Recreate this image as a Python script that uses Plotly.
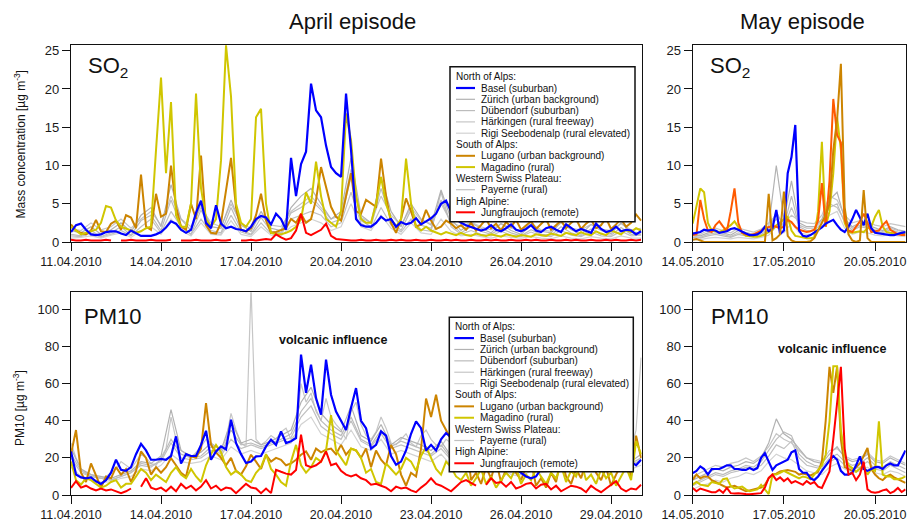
import pandas as pd
import plotly.graph_objects as go

W, H = 907, 521

APR_START = "2010-04-11"
MAY_START = "2010-05-14"

BLUE = "#0000ff"
GOLD = "#cc8400"
YELLOW = "#d0c600"
RED = "#ff0000"
ORANGE_RED = "#ff5a00"
GREY_ZUR = "#b2b2b2"
GREY_DUB = "#bcbcbc"
GREY_HAR = "#c6c6c6"
GREY_RIGI = "#d2d2d2"
GREY_PAY = "#c0c0c0"

# ---------------- April, SO2 (4-hourly colour stations, 8-hourly grey stations)
basel_so2_apr = [1.3, 2.2, 2.4, 1.6, 1.0, 0.9, 1.0, 1.3, 1.4, 1.4, 1.1, 0.9,
                 1.5, 1.1, 0.8, 0.8, 0.8, 1.0, 1.3, 1.9, 2.7, 2.4, 1.6, 1.2,
                 1.6, 3.8, 5.4, 2.5, 1.8, 4.8, 2.4, 1.8, 2.0, 1.7, 1.6, 1.4,
                 2.0, 3.0, 3.4, 3.2, 2.3, 3.7, 3.0, 1.6, 11.0, 6.0, 10.2, 11.8,
                 20.7, 17.2, 16.3, 12.6, 9.8, 9.0, 8.5, 19.4, 12.0, 3.0, 2.2, 2.0,
                 2.0, 2.5, 3.3, 2.8, 3.0, 2.0, 2.6, 2.3, 2.5, 3.1, 2.3, 2.7,
                 3.1, 3.7, 5.0, 5.4, 4.0, 3.0, 2.5, 2.2, 2.0, 1.8, 1.5, 1.7,
                 2.2, 1.6, 1.4, 1.8, 2.3, 1.6, 1.4, 1.7, 2.2, 1.5, 1.3, 1.8,
                 2.0, 1.6, 1.3, 2.3, 1.8, 1.4, 1.7, 1.5, 1.2, 2.4, 1.7, 1.3,
                 1.5, 2.0, 1.4, 1.6, 1.5, 1.0, 1.4]
lugano_so2_apr = [2.3, 1.5, 1.2, 1.0, 1.5, 2.9, 1.4, 1.3, 2.4, 2.8, 1.6, 3.5,
                  3.2, 1.8, 8.8, 2.0, 1.6, 6.3, 3.3, 3.7, 10.0, 4.6, 2.0, 1.6,
                  5.0, 3.0, 11.3, 2.2, 1.2, 1.1, 2.5, 7.0, 11.0, 4.5, 1.6, 1.4,
                  1.8, 3.5, 6.3, 2.8, 1.2, 1.3, 1.5, 1.8, 3.0, 2.5, 3.7, 2.5,
                  3.0, 5.5, 9.8, 7.0, 4.6, 3.3, 2.8, 6.0, 9.0, 4.0, 3.7, 5.5,
                  5.0, 4.6, 10.9, 6.0, 2.5, 1.2, 3.0, 5.7, 4.0, 2.0, 2.3, 4.2,
                  2.8, 1.7, 2.0, 2.8, 2.4, 1.8, 2.2, 1.6, 2.5, 1.5, 2.2, 3.0,
                  1.8, 2.4, 1.5, 2.6, 2.0, 2.9, 1.6, 2.2, 2.7, 1.7, 2.4, 3.0,
                  1.6, 2.2, 2.8, 1.8, 2.5, 3.0, 1.7, 2.4, 2.9, 1.8, 2.2, 3.1,
                  1.7, 2.3, 3.0, 2.0, 2.5, 3.6, 2.8]
magadino_so2_apr = [2.0, 1.5, 1.0, 1.2, 1.4, 1.6, 2.5, 4.7, 4.5, 2.8, 2.0, 1.8,
                    1.5, 1.2, 1.4, 1.8, 2.0, 12.0, 21.5, 9.0, 18.3, 3.5, 2.0, 2.0,
                    5.0, 19.4, 7.0, 3.0, 2.0, 3.0, 10.7, 25.7, 19.0, 5.0, 2.5, 2.0,
                    3.0, 16.3, 17.4, 5.0, 1.2, 1.0, 1.0, 1.2, 1.5, 2.0, 3.0, 6.5,
                    5.0, 10.5, 6.0, 3.0, 2.5, 2.0, 4.0, 16.8, 13.3, 6.0, 3.0, 2.5,
                    2.5, 5.0, 8.5, 5.0, 3.0, 2.0, 3.0, 10.9, 5.0, 2.0, 1.5, 2.0,
                    1.5, 1.2, 1.0, 1.3, 1.1, 0.9, 1.2, 0.9, 0.8, 1.1, 0.9, 0.8,
                    1.0, 0.8, 0.7, 1.0, 0.8, 0.7, 0.9, 0.8, 0.7, 1.0, 0.9, 0.8,
                    1.1, 0.9, 0.8, 1.2, 1.0, 0.9, 1.3, 1.0, 0.9, 1.4, 1.1, 0.9,
                    1.5, 1.2, 1.0, 1.6, 1.3, 1.8, 1.5]
jfj_so2_apr = [0.3, 0.2, 0.2, 0.3, 0.2, 0.2, 0.2, 0.3, 0.2, None, 0.2, 0.2,
               0.3, 0.2, 0.2, 0.2, 0.3, 0.2, 0.2, 0.2, 0.3, None, 0.2, 0.2,
               0.2, 0.3, 0.2, 0.2, 0.2, 0.3, 0.2, 0.2, 0.3, None, 0.2, 0.2,
               0.3, 0.2, 0.3, 0.4, 0.3, 1.0, 0.6, 0.3, 0.5, 1.5, 3.7, 1.2,
               0.9, 1.3, 1.6, 2.4, 0.8, 0.4, 0.3, 0.3, 0.2, 0.2, 0.3, 0.2,
               0.2, 0.3, 0.2, 0.2, 0.3, 0.2, 0.3, 0.2, 0.2, 0.3, 0.2, 0.2,
               0.3, 0.2, 0.2, 0.3, 0.2, 0.3, 0.2, 0.2, 0.3, 0.2, 0.2, 0.3,
               0.2, 0.3, 0.2, 0.2, 0.3, 0.2, 0.2, 0.3, 0.2, 0.3, 0.2, 0.2,
               0.3, 0.2, 0.2, 0.3, 0.2, 0.3, 0.2, 0.2, 0.3, 0.2, 0.2, 0.3,
               0.2, 0.3, 0.2, 0.2, 0.3, 0.2, 0.3]
zur_so2_apr = [1.5, 1.2, 2.0, 1.0, 1.6, 2.5, 1.3, 3.5, 4.5, 2.0, 7.5, 3.0,
               1.5, 5.0, 2.0, 1.8, 5.5, 2.2, 1.4, 4.0, 1.8, 1.5, 4.5, 6.0,
               7.0, 5.0, 3.0, 4.0, 11.0, 3.5, 2.5, 8.5, 4.0, 2.0, 5.0, 3.0,
               2.2, 6.8, 3.0, 1.5, 2.5, 1.8, 1.2, 2.4, 1.5, 1.0, 2.2, 1.4,
               1.2, 2.6, 1.6, 1.0, 2.3, 1.5, 1.1, 2.5, 1.3, 1.2]
dub_so2_apr = [1.0, 0.8, 1.5, 0.7, 1.2, 2.0, 0.9, 2.8, 3.5, 1.5, 5.5, 2.2,
               1.0, 4.2, 1.5, 1.2, 4.5, 1.6, 1.0, 3.2, 1.4, 1.2, 3.8, 4.5,
               5.5, 4.2, 2.5, 3.0, 8.5, 2.8, 2.0, 7.0, 3.0, 1.5, 4.2, 2.2,
               1.8, 5.5, 2.4, 1.2, 2.0, 1.4, 1.0, 1.8, 1.2, 0.8, 1.6, 1.0,
               0.9, 2.0, 1.2, 0.8, 1.7, 1.0, 0.9, 1.9, 1.0, 1.0]
har_so2_apr = [1.8, 1.5, 2.5, 1.6, 2.0, 3.0, 1.8, 3.0, 4.0, 2.2, 6.0, 3.0,
               2.0, 4.5, 2.5, 2.0, 5.0, 2.4, 1.8, 3.5, 2.2, 2.0, 4.0, 5.0,
               6.0, 4.5, 3.0, 3.5, 9.5, 3.2, 2.5, 6.0, 3.5, 2.2, 4.5, 2.8,
               2.4, 5.0, 2.6, 2.0, 2.6, 2.0, 1.6, 2.4, 1.8, 1.5, 2.4, 1.6,
               1.4, 2.5, 1.8, 1.6, 2.3, 1.7, 1.5, 2.4, 1.6, 1.8]
rigi_so2_apr = [0.5, 0.6, 0.8, 0.5, 0.9, 1.2, 0.6, 1.5, 2.0, 1.0, 3.0, 1.5,
                0.8, 2.5, 1.0, 0.9, 2.8, 1.0, 0.7, 2.0, 0.9, 0.8, 2.0, 2.5,
                3.0, 2.5, 1.5, 2.0, 5.0, 2.0, 1.5, 3.5, 1.8, 1.0, 2.5, 1.2,
                1.0, 3.0, 1.4, 0.8, 1.0, 0.7, 0.5, 0.8, 0.6, 0.5, 0.7, 0.5,
                0.4, 0.8, 0.5, 0.4, 0.7, 0.5, 0.4, 0.8, 0.5, 0.5]
pay_so2_apr = [0.8, 0.7, 1.2, 0.6, 1.0, 1.5, 0.8, 2.0, 3.0, 1.2, 4.0, 2.0,
               1.0, 3.0, 1.2, 1.0, 3.5, 1.3, 0.9, 2.5, 1.1, 1.0, 3.0, 3.5,
               4.0, 3.5, 2.0, 2.5, 6.5, 2.4, 1.8, 4.5, 2.2, 1.3, 3.0, 1.6,
               1.4, 6.5, 2.0, 1.0, 1.5, 1.0, 0.8, 1.4, 0.9, 0.7, 1.3, 0.8,
               0.7, 1.5, 0.9, 0.7, 1.3, 0.8, 0.7, 1.4, 0.8, 0.9]

# ---------------- April, PM10
basel_pm_apr = [23.5, 11, 9.5, 9, 9.5, 7.4, 6, 8, 12, 19, 13.6, 13,
                15, 22, 27.5, 24, 19, 19, 19.5, 19, 21, 31.6, 17, 22,
                21, 21, 27, 34.6, 19, 23.5, 26.2, 24.5, 40.6, 28, 22, 17.2,
                18, 20.8, 21, 26.2, 29.8, 27, 34.3, 28, 29, 30.7, 75.6, 55,
                70.2, 52.2, 43.3, 72.9, 54, 45, 40, 35, 47, 57.6, 40, 36,
                25, 27, 34.3, 32, 21, 16.3, 18, 24, 33, 39.7, 36, 24,
                27, 24, 30, 33.4, 31, 28, 26, 24.4, 27, 28, 30, 28,
                25, 22, 20, 18, 16, 14, 12, 10, 9, 10, 14, 18,
                20, 18, 20, 22, 19, 21, 24, 20, 22, 25, 22, 20,
                24, 21, 19, 22, 18, 16, 19]
lugano_pm_apr = [22, 35, 12, 7, 17, 10, 4, 10, 9, 15, 11, 14,
                 7, 13, 23.5, 20, 11, 15, 12, 15, 19.9, 16, 12, 10,
                 21, 20, 25, 49.5, 27, 23, 20, 16, 20, 13, 11, 15.5,
                 21.7, 18, 14, 21.7, 18, 20, 19, 16, 17, 19, 21.7, 23.5,
                 19, 25, 23, 24.4, 25, 22, 27, 21.7, 25, 24, 20, 25,
                 15, 24, 19, 16, 27, 22, 11, 5, 12, 10, 25, 52,
                 42, 54, 40, 35, 30, 50, 38, 30, 8, 12, 6, 15,
                 9, 18, 7, 14, 20, 12, 8, 15, 18, 5, 9, 4,
                 12, 7, 20, 10, 6, 14, 9, 18, 22, 12, 8, 15,
                 5, 11, 16, 20, 10, 32, 20]
magadino_pm_apr = [18, 8, 5.6, 9, 8, 6, 4, 5, 7, 8, 4, 6,
                   6, 10, 14, 12, 8, 11, 9, 7, 12, 15, 11, 9,
                   14, 10, 7, 16, 22, 27, 23, 15, 11, 13, 11, 8,
                   7, 12, 15, 22, 14, 11, 7, 5, 18, 27, 16, 12,
                   15, 20, 18, 24, 43, 24, 20, 16, 25, 24, 20, 12,
                   14, 7, 6, 17, 14, 11, 14, 20, 18, 13, 21, 26,
                   20, 14, 11, 18, 15, 10, 8, 12, 5, 9, 14, 6,
                   10, 4, 8, 12, 9, 15, 6, 11, 8, 14, 10, 6,
                   12, 9, 16, 7, 13, 10, 18, 8, 11, 6, 14, 9,
                   12, 5, 10, 15, 8, 29, 22]
jfj_pm_apr = [3.8, 7.4, 4, 5, 3.5, 2.5, 3.5, 2.5, 3, 2, 1, 2,
              3.5, None, 4.5, 9, 4, 3, 4, 2, 4.5, 2, 6, 3.5,
              5, 2.5, 4.5, 8, 3.5, 5, 2.5, 4, 3.5, 1, 3.5, 6,
              4, 3.5, 1, 3.5, 1, 13.6, 12.5, 11.5, 11, 13.5, 32.5, 16,
              15, 16, 18, 23.5, 16, 17, 13, 11, 10, 11, 9, 8,
              5.5, 6, 5, 4, 2, 4.5, 3.5, 4, 2.5, 1.5, 4, 6,
              9, 6, 5, 3.5, 2, 4.5, 7, 8, 6.5, 5, None, 5.5,
              9, 6.5, 7, 4.5, 7, 3.5, 4.5, 6, 6.5, 3.5, 5.5, 6,
              3, 5, 2, 3.5, 5, 4.5, 3.5, 1.5, 5, 3, 1.5, 3.5,
              5.5, 7.5, 3.5, 2, 3.5, 3, 5.5]
# Haerkingen PM10 is kept 4-hourly (it holds the short 17 April spike)
har_pm_apr = [28, 20, 14, 12, 11, 10, 9, 10, 12, 14, 18, 16,
              14, 18, 22, 20, 17, 16, 20, 25, 42, 30, 24, 22,
              20, 23, 26, 30, 28, 24, 25, 30, 44, 35, 28, 26,
              112, 30, 27, 29, 32, 30, 34, 36, 30, 33, 60, 50,
              55, 45, 40, 52, 42, 38, 35, 30, 45, 50, 38, 32,
              30, 34, 42, 36, 28, 27, 30, 33, 28, 26, 32, 35,
              30, 27, 26, 30, 28, 24, 22, 25, 20, 18, 22, 19,
              17, 20, 16, 18, 21, 17, 15, 18, 14, 16, 19, 15,
              17, 20, 18, 21, 19, 17, 19, 22, 20, 23, 21, 18,
              20, 22, 19, 21, 24, 35, 74]
zur_pm_apr = [25, 14, 11, 10, 9, 11, 13, 18, 17, 21, 46, 24,
              21, 23, 28, 24, 40, 28, 30, 27, 29, 32, 35, 50,
              58, 44, 38, 34, 48, 32, 29, 38, 27, 31, 29, 27,
              24, 29, 21, 19, 24, 17, 15, 19, 14, 13, 17, 15,
              16, 19, 17, 18, 21, 19, 17, 19, 18, 22]
dub_pm_apr = [22, 13, 10, 9, 8, 10, 12, 16, 15, 19, 30, 22,
              20, 21, 26, 22, 35, 27, 28, 26, 28, 30, 33, 45,
              52, 40, 35, 32, 42, 30, 27, 35, 26, 29, 27, 25,
              22, 27, 20, 18, 22, 16, 14, 18, 13, 12, 16, 14,
              15, 18, 16, 17, 20, 18, 16, 18, 17, 20]
rigi_pm_apr = [15, 10, 8, 7, 7, 9, 10, 14, 13, 16, 22, 18,
               17, 18, 21, 19, 26, 22, 24, 22, 24, 26, 28, 38,
               42, 33, 30, 27, 35, 26, 24, 30, 22, 24, 22, 20,
               18, 22, 16, 15, 18, 13, 12, 15, 11, 10, 13, 12,
               13, 15, 13, 14, 17, 15, 13, 15, 14, 16]
pay_pm_apr = [20, 12, 10, 9, 8, 10, 12, 17, 16, 18, 28, 20,
              19, 20, 24, 21, 30, 25, 27, 25, 27, 29, 31, 42,
              48, 37, 33, 30, 40, 29, 26, 33, 25, 27, 25, 23,
              21, 25, 19, 17, 21, 15, 13, 17, 12, 11, 15, 13,
              14, 17, 15, 16, 19, 17, 15, 17, 16, 19]

# ---------------- May, SO2 (3-hourly colour stations, 6-hourly grey stations)
basel_so2_may = [1.1, 1.2, 1.3, 1.6, 1.5, 1.6, 1.5, 1.2, 1.3, 1.4, 1.7, 1.8,
                 1.6, 1.3, 1.1, 0.9, 0.9, 1.0, 1.3, 2.0, 1.4, 1.8, 4.2, 1.0,
                 1.5, 9.0, 11.1, 15.3, 1.5, 0.8, 0.7, 0.9, 1.2, 1.5, 1.9, 2.4,
                 2.7, 2.9, 2.2, 1.6, 1.3, 2.0, 3.0, 4.2, 3.2, 2.2, 3.7, 1.8,
                 1.2, 1.1, 1.1, 1.0, 0.9, 0.9, 1.1, 1.2, 1.3]
lugano_so2_may = [0.9, 1.0, 5.5, 3.0, 1.5, 1.3, 2.2, 2.7, 2.0, 1.4, 4.0, 7.0,
                  2.5, 1.2, 1.0, 0.9, 1.0, 1.2, 1.5, 1.8, 2.0, 2.1, 2.0, 1.8,
                  2.0, 2.9, 2.6, 2.0, 1.6, 1.4, 1.3, 1.4, 1.6, 2.8, 7.7, 2.0,
                  8.0, 18.7, 14.0, 13.0, 3.0, 1.5, 1.3, 2.0, 2.7, 3.7, 2.5, 1.3,
                  1.4, 1.5, 2.2, 2.7, 1.6, 1.3, 1.0, 0.9, 0.9]
magadino_so2_may = [2.4, 4.6, 7.0, 6.5, 2.5, 1.5, 1.4, 1.3, 1.5, 1.8, 2.2, 2.7,
                    2.0, 1.2, 0.8, 0.7, 0.7, 0.7, 0.8, 1.0, 1.3, 1.6, 2.2, 2.5,
                    3.0, 3.3, 1.5, 0.8, 0.7, 0.6, 0.5, 0.5, 0.6, 4.0, 13.1, 2.0,
                    4.0, 9.0, 16.3, 12.0, 2.5, 1.3, 1.2, 1.3, 1.4, 1.3, 1.8, 2.0,
                    3.3, 4.2, 2.0, 1.3, 1.2, 1.1, 1.0, 1.1, 1.2]
jfj_so2_may = [0.3, 0.4, 0.2, 0.0, 0.0, 0.0, 0.0, 0.0, 0.0, 0.0, 0.0, 0.0,
               0.0, 0.0, 0.0, 0.0, 0.0, 0.0, 0.0, 0.0, 6.3, 0.2, 0.5, 1.0,
               6.6, 0.8, 0.2, 0.0, 0.0, 0.0, 0.0, 0.1, 0.5, 1.5, 2.5, 3.5,
               5.0, 12.0, 16.0, 23.3, 4.5, 1.0, 0.2, 0.0, 0.2, 6.8, 0.5, 0.0,
               0.0, 0.0, 0.0, 0.0, 0.0, 0.0, 0.0, 0.0, 0.0]
zur_so2_may = [1.0, 0.8, 1.2, 1.5, 1.2, 0.9, 1.5, 1.2, 1.0, 1.4, 2.0, 10.0,
               3.0, 8.0, 2.5, 2.0, 2.0, 3.0, 5.5, 6.5, 3.0, 2.0, 2.5, 2.2,
               1.8, 1.5, 2.0, 1.6, 1.4]
dub_so2_may = [0.6, 0.5, 0.8, 1.0, 0.8, 0.6, 1.0, 0.8, 0.7, 1.0, 1.5, 4.0,
               2.0, 6.0, 2.0, 1.5, 1.5, 2.5, 4.5, 5.0, 2.5, 1.5, 2.0, 1.8,
               1.4, 1.2, 1.6, 1.3, 1.2]
har_so2_may = [1.2, 1.0, 1.5, 1.8, 1.5, 1.2, 1.8, 1.5, 1.3, 1.7, 2.5, 3.5,
               2.5, 3.5, 2.8, 2.5, 2.4, 3.5, 6.0, 5.5, 3.5, 2.5, 2.8, 2.6,
               2.2, 2.0, 2.4, 2.2, 2.0]
rigi_so2_may = [0.3, 0.3, 0.5, 0.6, 0.5, 0.4, 0.6, 0.5, 0.4, 0.6, 0.9, 2.0,
                1.2, 2.5, 1.2, 1.0, 1.0, 2.0, 3.5, 4.0, 1.8, 1.0, 1.3, 1.2,
                0.9, 0.8, 1.0, 0.8, 0.7]
pay_so2_may = [0.8, 0.6, 1.0, 1.2, 1.0, 0.7, 1.2, 1.0, 0.8, 1.2, 1.7, 3.0,
               2.0, 4.5, 2.2, 1.8, 1.8, 2.8, 5.0, 4.5, 2.8, 1.8, 2.2, 2.0,
               1.6, 1.4, 1.8, 1.5, 1.3]

# ---------------- May, PM10
basel_pm_may = [11.8, 13, 15.4, 14, 11, 14, 14, 14, 15, 16, 16, 14,
                14, 13.5, 13.5, 14.5, 13.5, 14.5, 20, 22.6, 18, 13.5, 16, 17,
                18, 19, 23, 24, 14, 12, 12, 9, 8, 10, 13, 16,
                18.5, 21, 19, 13, 11, 11, 12, 16, 20.8, 14, 13, 14,
                15, 15, 14, 16, 17, 16, 16, 20, 24]
lugano_pm_may = [8.3, 11, 9, 10, 10, 8, 7, 6, 5, 4, 4.5, 5,
                 4, 3, 2, 2.5, 3, 3.5, 4, 5.5, 9, 11, 11.5, 12.7,
                 13, 13.5, 13, 12.5, 11, 11.5, 11, 10.5, 11.5, 12.5, 18, 40,
                 69, 55, 69, 30, 15, 14, 13, 15, 17, 21, 25.3, 14,
                 11, 9, 8, 10, 11, 9.5, 8.5, 7.5, 6.5]
magadino_pm_may = [5.6, 7, 5.6, 5, 4.8, 7, 6.5, 6, 8.5, 9, 5, 3.5,
                   4, 4.5, 3, 2, 2.5, 3, 5.5, 3, 0.5, 11, 11, 12,
                   13, 12, 11, 10, 9, 10, 9.5, 8.5, 11, 13.5, 16, 21.7,
                   39.7, 69.3, 69.3, 35, 21.7, 16, 14.5, 12.5, 14.5, 16, 11, 14,
                   13, 39.7, 11, 10, 10, 8.5, 8.5, 9, 10]
jfj_pm_may = [3.8, 2.0, 3.5, 2.8, 2.0, 1.5, 1.5, 2.8, 1.2, 3.8, 1.0, 0.8,
              1.0, 0.6, 0.5, 0.4, 0.5, 0.6, 1.0, 4.0, 9.2, 11.0, 8.0, 9.5,
              7.5, 9.0, 6.5, 7.5, 6.5, 5.5, 7.5, 6.0, 7.0, 4.5, 3.8, 8.0,
              12.7, 30.0, 50.0, 69.0, 25.0, 11.0, 12.0, 8.0, 11.0, 18.0, 3.0, 1.6,
              1.2, 1.6, 2.5, 3.0, 1.0, 2.0, 3.8, 1.6, 3.0]
zur_pm_may = [8, 10, 12, 14, 13, 15, 16, 18, 17, 20, 28, 41,
              33, 30, 25, 20, 18, 17, 22, 26, 20, 18, 19, 22,
              18, 17, 20, 18, 16]
dub_pm_may = [6, 8, 10, 12, 11, 13, 14, 16, 15, 18, 24, 30,
              34, 32, 22, 18, 16, 15, 20, 22, 18, 16, 17, 20,
              16, 15, 18, 16, 14]
har_pm_may = [10, 12, 14, 16, 15, 17, 18, 20, 18, 21, 26, 33,
              30, 28, 24, 20, 19, 18, 24, 25, 21, 19, 20, 23,
              19, 18, 21, 19, 17]
rigi_pm_may = [3, 5, 6, 8, 7, 9, 10, 12, 11, 13, 18, 22,
               20, 19, 16, 13, 12, 11, 15, 17, 14, 12, 13, 15,
               12, 11, 13, 12, 10]
pay_pm_may = [5, 7, 9, 11, 10, 12, 13, 15, 14, 16, 21, 27,
              25, 29, 20, 16, 15, 14, 18, 20, 16, 14, 15, 18,
              14, 13, 16, 14, 12]

so2_ticks = [0, 5, 10, 15, 20, 25]
pm_ticks = [0, 20, 40, 60, 80, 100]

legend_rows = [
    ("North of Alps:", None, 0),
    ("Basel (suburban)", BLUE, 2.2),
    ("Zürich (urban background)", GREY_ZUR, 1.2),
    ("Dübendorf (suburban)", GREY_DUB, 1.2),
    ("Härkingen (rural freeway)", GREY_HAR, 1.2),
    ("Rigi Seebodenalp (rural elevated)", GREY_RIGI, 1.2),
    ("South of Alps:", None, 0),
    ("Lugano (urban background)", GOLD, 2),
    ("Magadino (rural)", YELLOW, 2),
    ("Western Swiss Plateau:", None, 0),
    ("Payerne (rural)", GREY_PAY, 1.2),
    ("High Alpine:", None, 0),
    ("Jungfraujoch (remote)", RED, 2),
]


def px_x(x):
    return x / W


def px_y(y):
    return 1 - y / H


fig = go.Figure()


def add_line(values, start, freq, color, width, n, name):
    t = pd.date_range(start, periods=len(values), freq=freq)
    fig.add_trace(go.Scatter(
        x=t, y=values, mode="lines", name=name,
        line=dict(color=color, width=width),
        xaxis="x" + n, yaxis="y" + n, showlegend=False,
        hovertemplate=name + "<br>%{x|%d.%m.%Y %H:%M}: %{y}<extra></extra>",
    ))


# April SO2
n = ""
for vals, col, nm in [(pay_so2_apr, GREY_PAY, "Payerne"), (rigi_so2_apr, GREY_RIGI, "Rigi"),
                      (har_so2_apr, GREY_HAR, "Härkingen"), (dub_so2_apr, GREY_DUB, "Dübendorf"),
                      (zur_so2_apr, GREY_ZUR, "Zürich")]:
    add_line(vals, APR_START, "8h", col, 1.2, n, nm)
add_line(lugano_so2_apr, APR_START, "4h", GOLD, 2, n, "Lugano")
add_line(magadino_so2_apr, APR_START, "4h", YELLOW, 2, n, "Magadino")
add_line(basel_so2_apr, APR_START, "4h", BLUE, 2.2, n, "Basel")
add_line(jfj_so2_apr, APR_START, "4h", RED, 2, n, "Jungfraujoch")

# May SO2
n = "2"
for vals, col, nm in [(pay_so2_may, GREY_PAY, "Payerne"), (rigi_so2_may, GREY_RIGI, "Rigi"),
                      (har_so2_may, GREY_HAR, "Härkingen"), (dub_so2_may, GREY_DUB, "Dübendorf"),
                      (zur_so2_may, GREY_ZUR, "Zürich")]:
    add_line(vals, MAY_START, "6h", col, 1.2, n, nm)
add_line(magadino_so2_may, MAY_START, "3h", YELLOW, 2, n, "Magadino")
add_line(lugano_so2_may, MAY_START, "3h", ORANGE_RED, 2, n, "Lugano")
add_line(basel_so2_may, MAY_START, "3h", BLUE, 2.2, n, "Basel")
add_line(jfj_so2_may, MAY_START, "3h", GOLD, 2, n, "Jungfraujoch")

# April PM10
n = "3"
for vals, col, nm, fq in [(pay_pm_apr, GREY_PAY, "Payerne", "8h"), (rigi_pm_apr, GREY_RIGI, "Rigi", "8h"),
                          (har_pm_apr, GREY_HAR, "Härkingen", "4h"), (dub_pm_apr, GREY_DUB, "Dübendorf", "8h"),
                          (zur_pm_apr, GREY_ZUR, "Zürich", "8h")]:
    add_line(vals, APR_START, fq, col, 1.2, n, nm)
add_line(lugano_pm_apr, APR_START, "4h", GOLD, 2, n, "Lugano")
add_line(magadino_pm_apr, APR_START, "4h", YELLOW, 2, n, "Magadino")
add_line(basel_pm_apr, APR_START, "4h", BLUE, 2.2, n, "Basel")
add_line(jfj_pm_apr, APR_START, "4h", RED, 2, n, "Jungfraujoch")

# May PM10
n = "4"
for vals, col, nm in [(pay_pm_may, GREY_PAY, "Payerne"), (rigi_pm_may, GREY_RIGI, "Rigi"),
                      (har_pm_may, GREY_HAR, "Härkingen"), (dub_pm_may, GREY_DUB, "Dübendorf"),
                      (zur_pm_may, GREY_ZUR, "Zürich")]:
    add_line(vals, MAY_START, "6h", col, 1.2, n, nm)
add_line(lugano_pm_may, MAY_START, "3h", GOLD, 2, n, "Lugano")
add_line(magadino_pm_may, MAY_START, "3h", YELLOW, 2, n, "Magadino")
add_line(basel_pm_may, MAY_START, "3h", BLUE, 2.2, n, "Basel")
add_line(jfj_pm_may, MAY_START, "3h", RED, 2, n, "Jungfraujoch")

# ---------------- axes
tick_font = dict(size=12.5, color="#1a1a1a")
xcommon = dict(type="date", tickformat="%d.%m.%Y", dtick=3 * 86400000, ticks="outside",
               ticklen=8, tickwidth=1, tickcolor="#111", showline=True, linecolor="#111",
               linewidth=1.2, mirror=True, showgrid=False, zeroline=False, tickfont=tick_font,
               automargin=False)
ycommon = dict(ticks="outside", ticklen=8, tickwidth=1, tickcolor="#111", showline=True,
               linecolor="#111", linewidth=1.2, mirror=True, showgrid=False, zeroline=False,
               tickfont=dict(size=13, color="#1a1a1a"), automargin=False)

apr_dom = [px_x(71), px_x(641.7)]
may_dom = [px_x(692.7), px_x(905.7)]
top_dom = [px_y(242), px_y(45)]
bot_dom = [px_y(495), px_y(292.3)]
apr_rng = ["2010-04-11 00:00", "2010-04-30 00:30"]
may_rng = ["2010-05-14 00:00", "2010-05-21 00:10"]

fig.update_layout(
    xaxis=dict(xcommon, domain=apr_dom, range=apr_rng, tick0=APR_START, anchor="y"),
    yaxis=dict(ycommon, domain=top_dom, range=[0, 25.75], tickvals=so2_ticks, anchor="x"),
    xaxis2=dict(xcommon, domain=may_dom, range=may_rng, tick0=MAY_START, anchor="y2"),
    yaxis2=dict(ycommon, domain=top_dom, range=[0, 25.75], tickvals=so2_ticks, anchor="x2"),
    xaxis3=dict(xcommon, domain=apr_dom, range=apr_rng, tick0=APR_START, anchor="y3"),
    yaxis3=dict(ycommon, domain=bot_dom, range=[0, 109.2], tickvals=pm_ticks, anchor="x3"),
    xaxis4=dict(xcommon, domain=may_dom, range=may_rng, tick0=MAY_START, anchor="y4"),
    yaxis4=dict(ycommon, domain=bot_dom, range=[0, 109.2], tickvals=pm_ticks, anchor="x4"),
)

# ---------------- text
annotations = []
shapes = []


def label(x, y, text, size, xanchor="center", angle=0, color="#111"):
    annotations.append(dict(x=px_x(x), y=px_y(y), xref="paper", yref="paper", text=text,
                            showarrow=False, xanchor=xanchor, yanchor="middle", textangle=angle,
                            font=dict(size=size, color=color)))


label(352.5, 22, "April episode", 22)
label(802, 22, "May episode", 22)
label(86, 67, "SO<sub>2</sub>", 22, "left")
label(708, 67, "SO<sub>2</sub>", 22, "left")
label(81.5, 316, "PM10", 22, "left")
label(708.5, 316, "PM10", 22, "left")
label(333, 340, "<b>volcanic influence</b>", 12.5)
label(832, 349, "<b>volcanic influence</b>", 12.5)
label(19, 144.5, "Mass concentration [µg m<sup>-3</sup>]", 12, angle=-90)
label(19, 408, "PM10 [µg m<sup>-3</sup>]", 12, angle=-90)


def add_legend(x0, y0, x1, y1, row0, step, head_x, lx0, lx1, text_x):
    shapes.append(dict(type="rect", xref="paper", yref="paper", x0=px_x(x0), x1=px_x(x1),
                       y0=px_y(y1), y1=px_y(y0), fillcolor="white",
                       line=dict(color="#111", width=1.5), layer="above"))
    for i, (txt, col, wd) in enumerate(legend_rows):
        y = row0 + i * step
        if col is None:
            label(head_x, y, txt, 10, "left")
        else:
            shapes.append(dict(type="line", xref="paper", yref="paper", x0=px_x(lx0), x1=px_x(lx1),
                               y0=px_y(y), y1=px_y(y), line=dict(color=col, width=wd), layer="above"))
            label(text_x, y, txt, 10, "left")


add_legend(450, 66.7, 635, 221.7, 76.7, 11.3, 453.5, 456, 475, 478.5)
add_legend(449.3, 317.3, 633.3, 471.7, 326.7, 11.38, 452.5, 454.3, 474, 477.5)

fig.update_layout(
    width=W, height=H, margin=dict(l=0, r=0, t=0, b=0),
    paper_bgcolor="white", plot_bgcolor="white",
    font=dict(family="Arial, Liberation Sans, sans-serif", color="#111"),
    showlegend=False, annotations=annotations, shapes=shapes,
)

# the page's default body margin would shift the 907x521 figure; remove it
fig.write_html("out.html", config={"displayModeBar": False},
               post_script="document.body.style.margin='0';document.body.style.padding='0';")
